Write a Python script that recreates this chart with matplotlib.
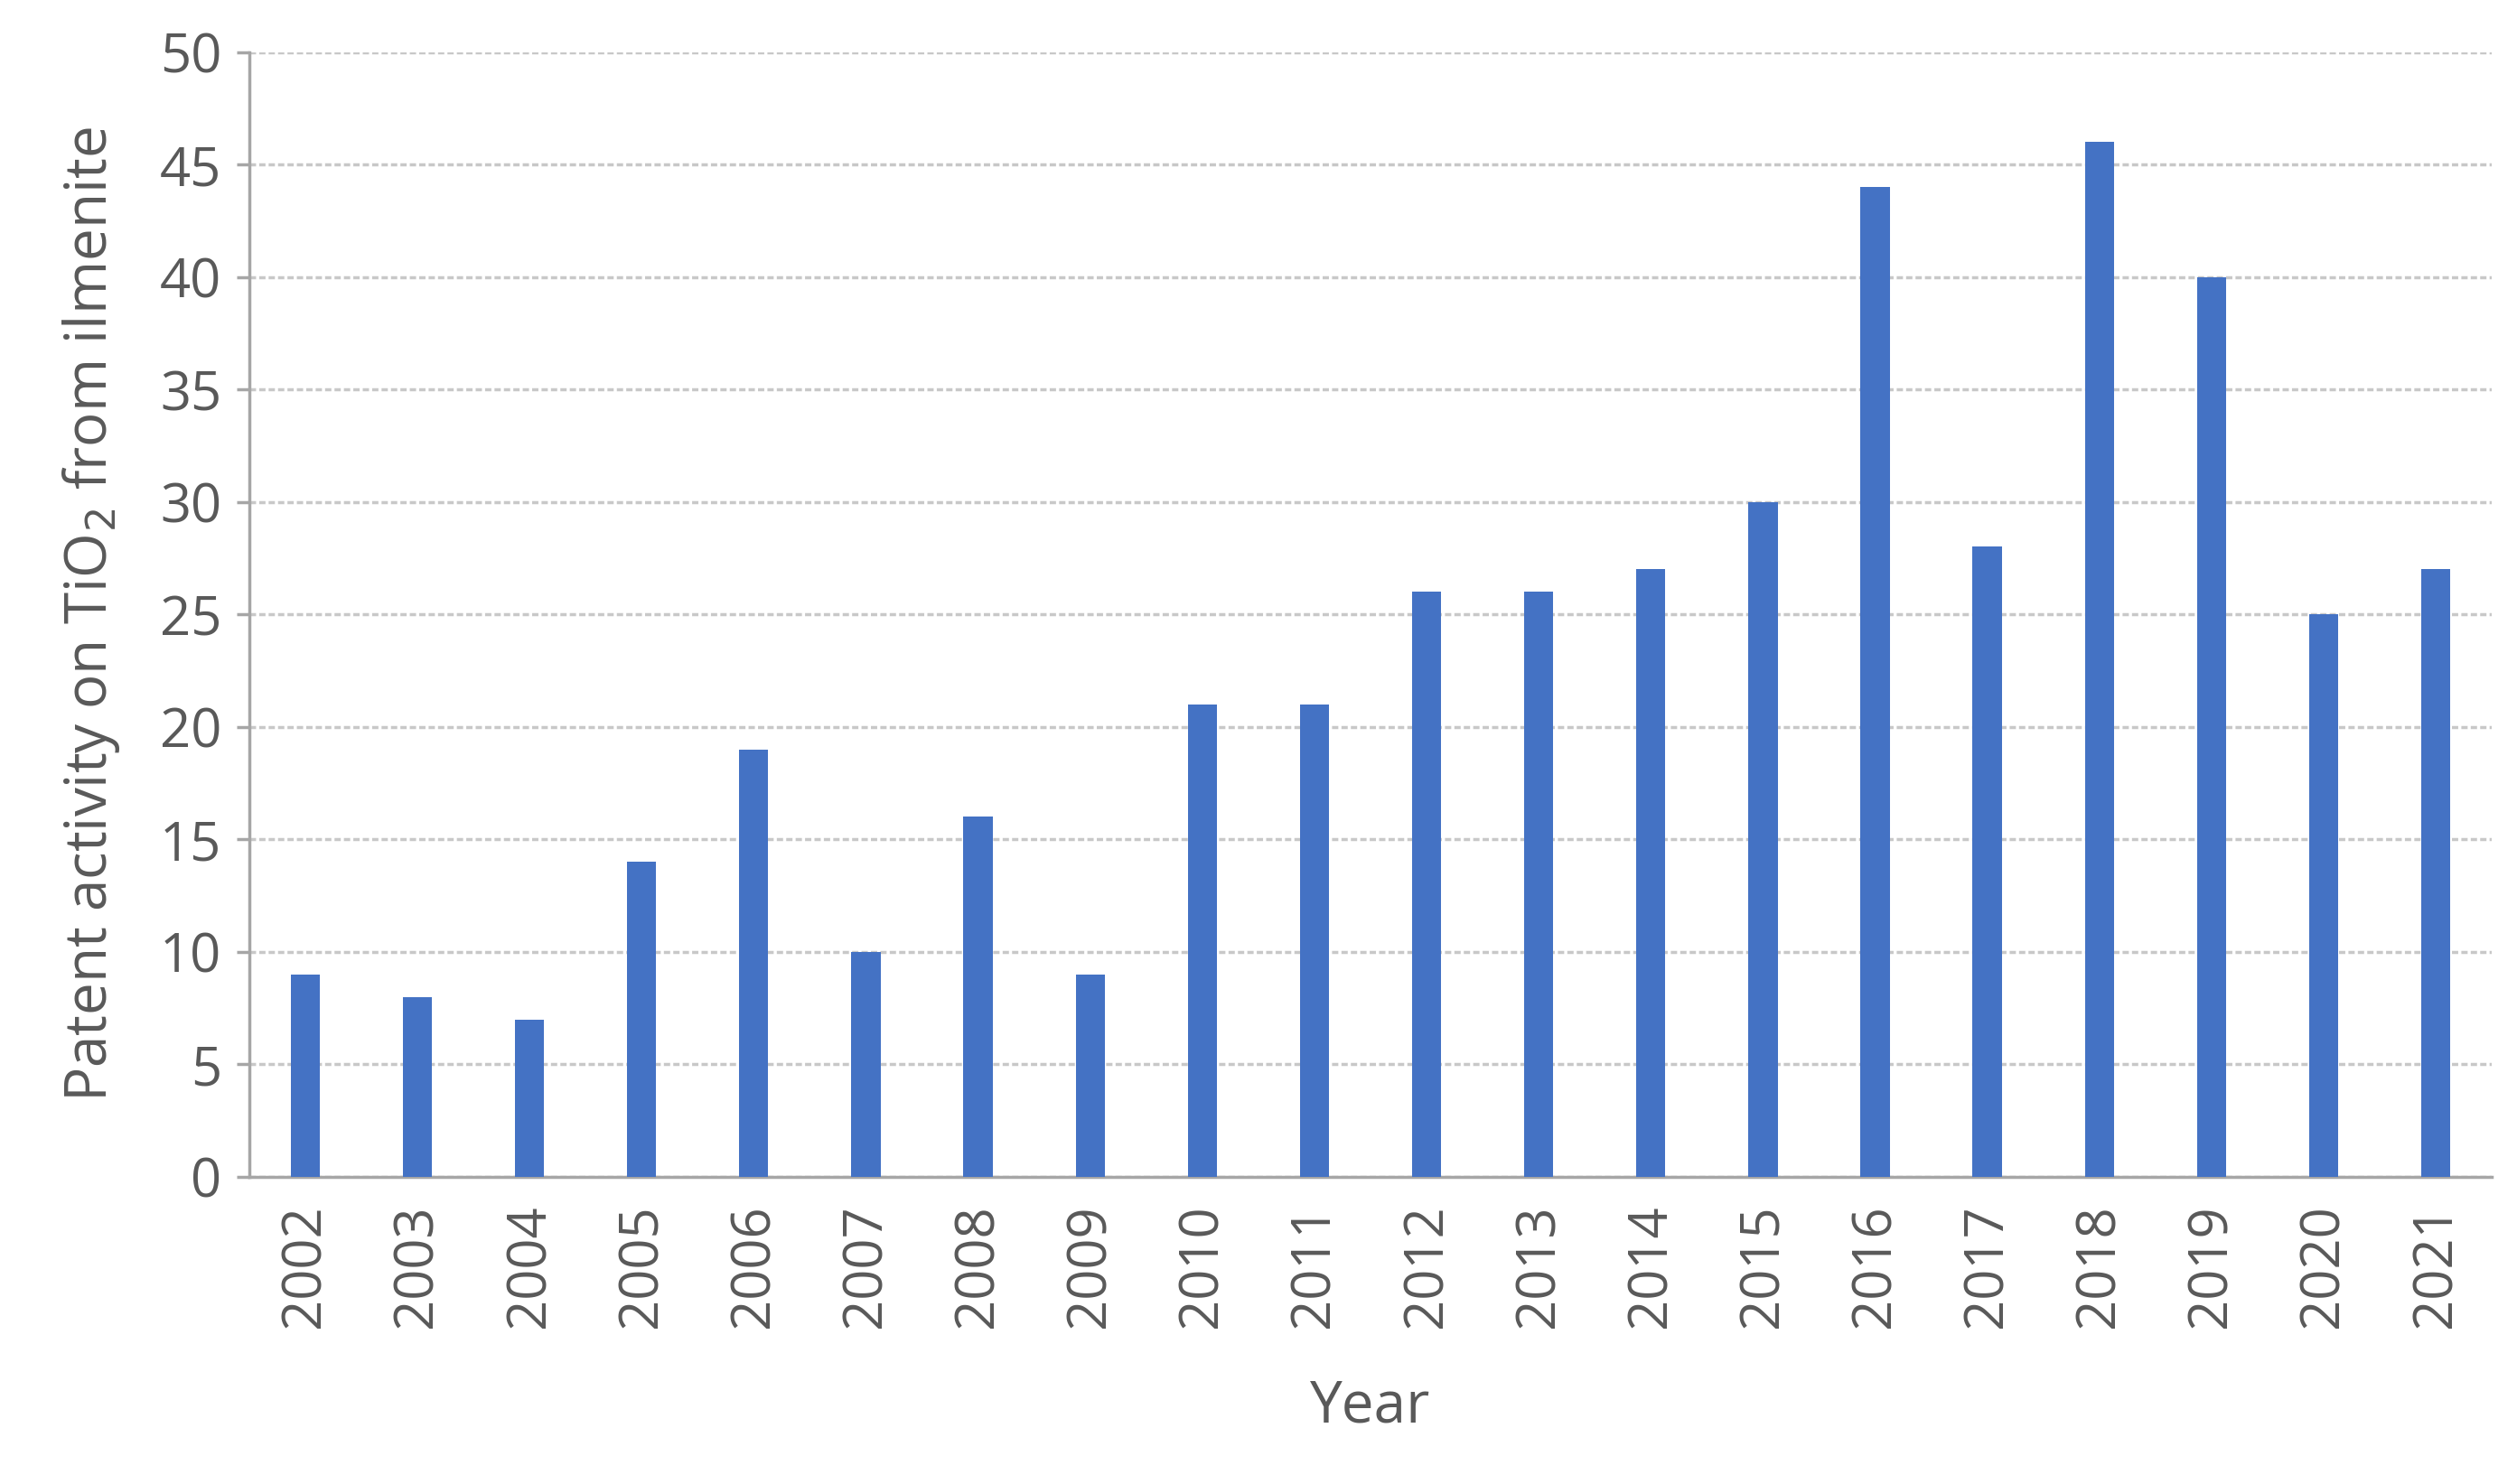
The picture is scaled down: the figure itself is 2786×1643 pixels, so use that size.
import matplotlib.pyplot as plt

years = [str(y) for y in range(2002, 2022)]
counts = [9, 8, 7, 14, 19, 10, 16, 9, 21, 21, 26, 26, 27, 30, 44, 28, 46, 40, 25, 27]

plt.rcParams['font.family'] = ['Open Sans', 'DejaVu Sans']
txt = '#595959'

fig = plt.figure(figsize=(27.86, 16.43), dpi=100)
ax = fig.add_axes([0.099, 0.207, 0.891, 0.758])

ax.bar(range(len(years)), counts, width=0.26, color='#4472C4', zorder=3)
ax.set_xlim(-0.5, len(years) - 0.5)
ax.set_ylim(0, 50)
ax.set_yticks(range(0, 51, 5))
ax.set_xticks(range(len(years)))
ax.set_xticklabels(years, rotation=90)
ax.yaxis.grid(True, color='#c8c8c8', linestyle=(0, (2, 1)), linewidth=2.5, zorder=0)

for s in ['top', 'right']:
    ax.spines[s].set_visible(False)
for s in ['left', 'bottom']:
    ax.spines[s].set_color('#a6a6a6')
    ax.spines[s].set_linewidth(2.5)
ax.tick_params(axis='y', colors=txt, labelsize=43, length=10, width=2.5, color='#a6a6a6', pad=12)
ax.tick_params(axis='x', colors=txt, labelsize=43, length=0, pad=22)

ax.set_xlabel('Year', fontsize=46, color=txt, labelpad=40)
ax.set_ylabel('Patent activity on TiO$_2$ from ilmenite', fontsize=46, color=txt, labelpad=30)

fig.savefig('out.png', dpi=100)
